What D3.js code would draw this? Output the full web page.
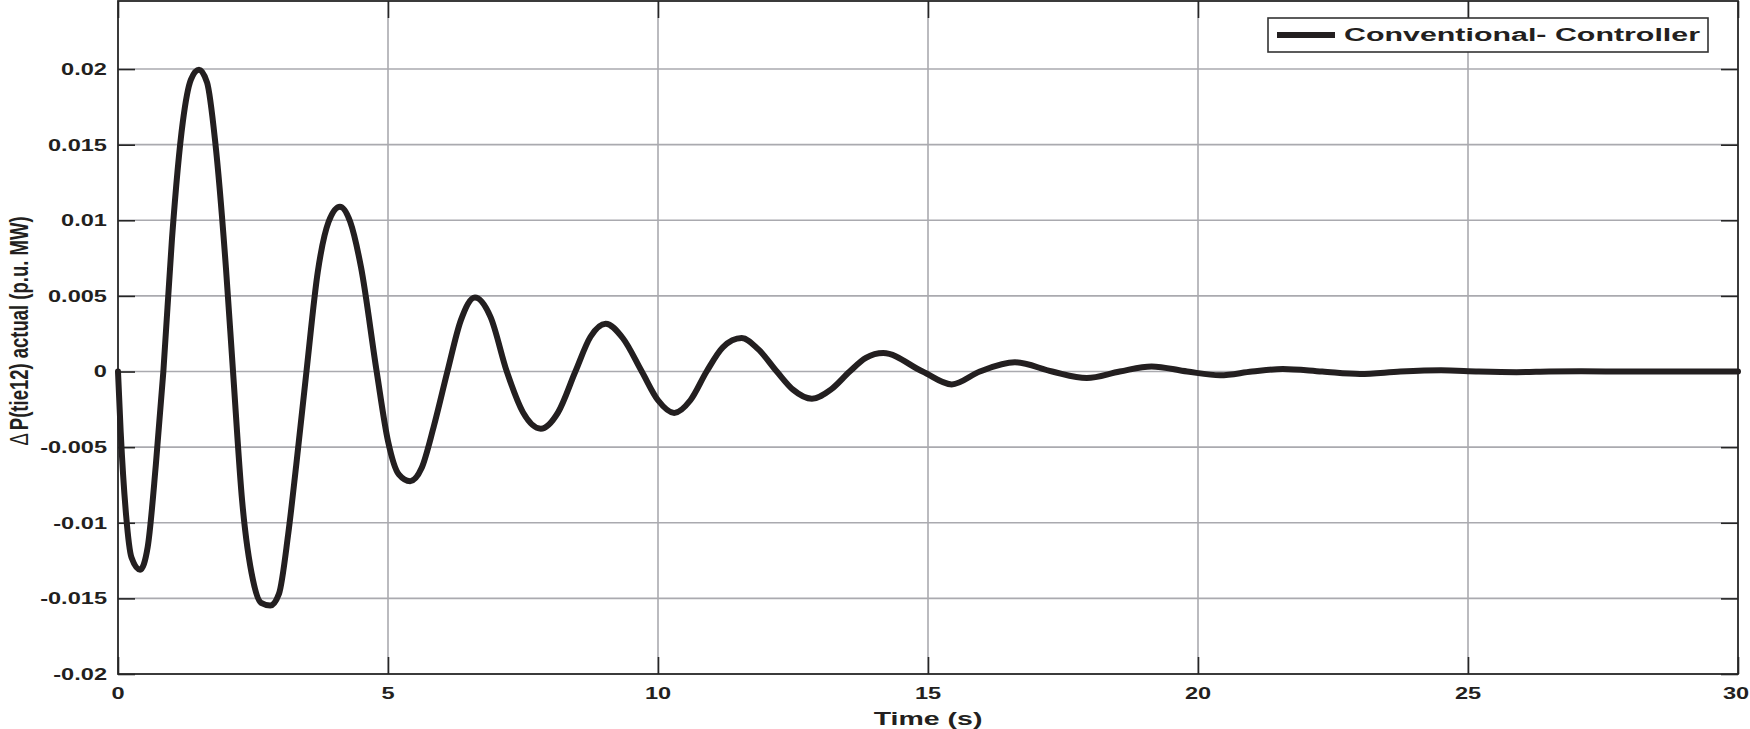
<!DOCTYPE html>
<html>
<head>
<meta charset="utf-8">
<script src="https://cdn.jsdelivr.net/npm/d3@7"></script>
<style>
  html, body { margin: 0; padding: 0; background: #fff; }
  svg { display: block; }
  text { font-family: "Liberation Sans", Arial, Helvetica, sans-serif; font-weight: bold; fill: #231f20; }
</style>
</head>
<body>
<svg id="chart" width="1750" height="729"></svg>
<script>
// ---- data ----
const timeS = [
  0, 0.05, 0.15, 0.25, 0.41, 0.55, 0.7, 0.84, 1.0, 1.2, 1.35, 1.5, 1.65, 1.8, 2.0, 2.13,
  2.3, 2.5, 2.65, 2.82, 2.98, 3.15, 3.3, 3.49, 3.7, 3.9, 4.11, 4.3, 4.5, 4.79,
  5.0, 5.2, 5.41, 5.62, 5.85, 6.1, 6.35, 6.61, 6.9, 7.2, 7.5, 7.83, 8.15, 8.47,
  8.75, 9.03, 9.35, 9.7, 10.0, 10.3, 10.6, 10.9, 11.2, 11.55, 11.85, 12.2, 12.5,
  12.85, 13.2, 13.55, 13.85, 14.17, 14.9, 15.44, 15.96, 16.61, 17.3, 17.94, 18.55,
  19.14, 19.8, 20.41, 21.0, 21.57, 22.3, 23.0, 23.75, 24.5, 25.2, 25.9, 26.5, 27.1, 28.0, 30.0
];
const deltaPtie = [
  0, -0.004, -0.0095, -0.0123, -0.0131, -0.0116, -0.0062, 0, 0.0088, 0.0165, 0.0193, 0.01995, 0.0191, 0.0152, 0.0068, 0,
  -0.0086, -0.0138, -0.0153, -0.01547, -0.0147, -0.0108, -0.0062, 0, 0.0066, 0.0099, 0.0109, 0.0099, 0.0069, 0,
  -0.0046, -0.0068, -0.00725, -0.0064, -0.0036, 0, 0.0034, 0.0049, 0.0036, 0, -0.0027, -0.00378, -0.0027, 0,
  0.0023, 0.00316, 0.0022, 0, -0.0019, -0.00274, -0.0019, 0, 0.0016, 0.00221, 0.0015, 0, -0.0012,
  -0.0018, -0.0012, 0, 0.0009, 0.00122, 0, -0.00085, 0, 0.00061, 0, -0.00043, 0,
  0.00034, 0, -0.00025, 0, 0.00017, 0, -0.00016, 0, 0.00008, 0, -0.00004, 0, 0.00002, 0, 0
];
const xTicks = [0, 5, 10, 15, 20, 25, 30];
const xTickLabels = ["0", "5", "10", "15", "20", "25", "30"];
const yTicks = [-0.02, -0.015, -0.01, -0.005, 0, 0.005, 0.01, 0.015, 0.02];
const yTickLabels = ["-0.02", "-0.015", "-0.01", "-0.005", "0", "0.005", "0.01", "0.015", "0.02"];
const seriesName = "Conventional- Controller";
const xTitle = "Time (s)";
const yTitleDelta = "\u0394";
const yTitleRest = "P(tie12) actual (p.u. MW)";

// ---- layout ----
const L = 118, R = 1738, T = 1, B = 674;
const svg = d3.select("#chart");
const x = d3.scaleLinear().domain([0, 30]).range([L, R]);
const y = d3.scaleLinear().domain([-0.02, 0.0245]).range([B, T]);
const STRETCH = 1.43;
const ink = "#231f20";

// grid
const grid = svg.append("g");
grid.selectAll("line.gx").data(xTicks.slice(1, -1)).enter().append("line")
  .attr("x1", d => x(d)).attr("x2", d => x(d)).attr("y1", T).attr("y2", B)
  .attr("stroke", "#aaaaaf").attr("stroke-width", 1.6);
grid.selectAll("line.gy").data(yTicks.slice(1)).enter().append("line")
  .attr("x1", L).attr("x2", R).attr("y1", d => y(d)).attr("y2", d => y(d))
  .attr("stroke", "#aaaaaf").attr("stroke-width", 1.6);

// axes (ticks inward on all four sides)
const tick = 17;
function styleAxis(g) {
  g.selectAll("path.domain").remove();
  g.selectAll(".tick line").attr("stroke", "#262626").attr("stroke-width", 1.6);
  g.selectAll(".tick text").remove();
}
svg.append("g").attr("transform", `translate(0,${B})`)
  .call(d3.axisBottom(x).tickValues(xTicks).tickSizeInner(-tick).tickSizeOuter(0)).call(styleAxis);
svg.append("g").attr("transform", `translate(0,${T})`)
  .call(d3.axisTop(x).tickValues(xTicks).tickSizeInner(-tick).tickSizeOuter(0)).call(styleAxis);
svg.append("g").attr("transform", `translate(${L},0)`)
  .call(d3.axisLeft(y).tickValues(yTicks).tickSizeInner(-tick).tickSizeOuter(0)).call(styleAxis);
svg.append("g").attr("transform", `translate(${R},0)`)
  .call(d3.axisRight(y).tickValues(yTicks).tickSizeInner(-tick).tickSizeOuter(0)).call(styleAxis);

// box
svg.append("rect").attr("x", L).attr("y", T).attr("width", R - L).attr("height", B - T)
  .attr("fill", "none").attr("stroke", "#262626").attr("stroke-width", 1.8);

// tick labels
svg.append("g").selectAll("text").data(yTicks).enter().append("text")
  .attr("transform", d => `translate(107,${y(d)}) scale(${STRETCH},1)`)
  .attr("text-anchor", "end").attr("dy", "0.36em").attr("font-size", 16.5)
  .text((d, i) => yTickLabels[i]);
svg.append("g").selectAll("text").data(xTicks).enter().append("text")
  .attr("transform", d => `translate(${Math.min(x(d), 1736)},693) scale(${STRETCH},1)`)
  .attr("text-anchor", "middle").attr("dy", "0.36em").attr("font-size", 16.5)
  .text((d, i) => xTickLabels[i]);

// axis titles
svg.append("text")
  .attr("transform", `translate(${(L + R) / 2},718) scale(1.5,1)`)
  .attr("text-anchor", "middle").attr("dy", "0.36em").attr("font-size", 19)
  .text(xTitle);
const yt = svg.append("text")
  .attr("transform", `translate(19,331) scale(1.35,1) rotate(-90)`)
  .attr("text-anchor", "middle").attr("dy", "0.36em").attr("font-size", 18.5);
yt.append("tspan").attr("font-weight", "normal").text(yTitleDelta);
yt.append("tspan").attr("dx", 3).text(yTitleRest);

// series
const pts = timeS.map((t, i) => [t, deltaPtie[i]]);
const line = d3.line().x(d => x(d[0])).y(d => y(d[1])).curve(d3.curveMonotoneX);
svg.append("path").datum(pts).attr("d", line)
  .attr("fill", "none").attr("stroke", ink).attr("stroke-width", 6)
  .attr("stroke-linejoin", "round").attr("stroke-linecap", "round");

// legend
const lg = svg.append("g");
lg.append("rect").attr("x", 1268).attr("y", 18).attr("width", 440).attr("height", 34)
  .attr("fill", "#fff").attr("stroke", "#333").attr("stroke-width", 1.6);
lg.append("line").attr("x1", 1277).attr("x2", 1335).attr("y1", 35).attr("y2", 35)
  .attr("stroke", ink).attr("stroke-width", 6);
lg.append("text").attr("x", 1344).attr("y", 35).attr("dy", "0.36em").attr("font-size", 18)
  .attr("textLength", 356).attr("lengthAdjust", "spacingAndGlyphs")
  .text(seriesName);
</script>
</body>
</html>
